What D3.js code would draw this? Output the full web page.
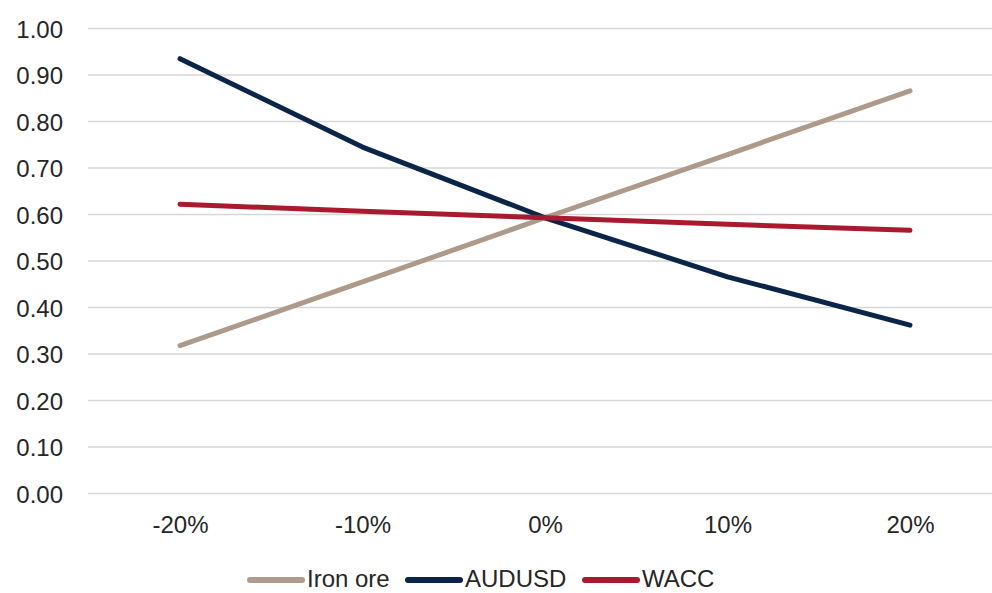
<!DOCTYPE html>
<html><head><meta charset="utf-8">
<script src="https://cdn.jsdelivr.net/npm/d3@7"></script>
<style>body{margin:0;background:#fff;}svg{display:block;font-family:"Liberation Sans",Arial,sans-serif;}</style>
</head><body>
<svg id="c" width="992" height="593"></svg>
<script>
const categories = ["-20%","-10%","0%","10%","20%"];
const ironOre = [0.318, 0.455, 0.593, 0.729, 0.866];
const audusd  = [0.935, 0.745, 0.593, 0.466, 0.362];
const wacc    = [0.622, 0.607, 0.593, 0.579, 0.566];
const yTicks = [0,0.1,0.2,0.3,0.4,0.5,0.6,0.7,0.8,0.9,1.0];
const seriesNames = ["Iron ore","AUDUSD","WACC"];
const seriesColors = ["#ad9a8b","#0a2548","#aa1a2e"];
const seriesData = [ironOre, audusd, wacc];

const svg = d3.select("#c");
const x = d3.scalePoint().domain(categories).range([180, 910]);
const y = d3.scaleLinear().domain([0,1]).range([493.5, 28.5]);

// gridlines
svg.append("g").selectAll("line").data(yTicks).join("line")
  .attr("x1",88).attr("x2",992)
  .attr("y1",d=>y(d)).attr("y2",d=>y(d))
  .attr("stroke","#d6d6d6").attr("stroke-width",1.6);

// y axis labels
const yAxis = d3.axisLeft(y).tickValues(yTicks).tickFormat(d3.format(".2f")).tickSize(0).tickPadding(0);
const gy = svg.append("g").attr("transform","translate(63,0)").call(yAxis);
gy.select(".domain").remove();
gy.selectAll("text").attr("font-size",24).attr("fill","#262626").attr("dy","0.36em").style("font-family","'Liberation Sans',Arial,sans-serif");

// x axis labels
const xAxis = d3.axisBottom(x).tickSize(0).tickPadding(0);
const gx = svg.append("g").attr("transform","translate(0,533)").call(xAxis);
gx.select(".domain").remove();
gx.selectAll("text").attr("font-size",24).attr("fill","#262626").attr("dy",0).style("font-family","'Liberation Sans',Arial,sans-serif");

// lines
const line = d3.line().x((d,i)=>x(categories[i])).y(d=>y(d));
svg.append("g").selectAll("path").data(seriesData).join("path")
  .attr("d",line).attr("fill","none")
  .attr("stroke",(d,i)=>seriesColors[i]).attr("stroke-width",5)
  .attr("stroke-linecap","round").attr("stroke-linejoin","round");

// legend
const legendX = [250, 408, 585];
const lg = svg.append("g").selectAll("g").data(seriesNames).join("g")
  .attr("transform",(d,i)=>`translate(${legendX[i]},0)`);
lg.append("line").attr("x1",0).attr("x2",52).attr("y1",580).attr("y2",580)
  .attr("stroke",(d,i)=>seriesColors[i]).attr("stroke-width",6).attr("stroke-linecap","round");
lg.append("text").attr("x",57).attr("y",587)
  .attr("font-size",24).attr("fill","#262626").text(d=>d);
</script>
</body></html>
